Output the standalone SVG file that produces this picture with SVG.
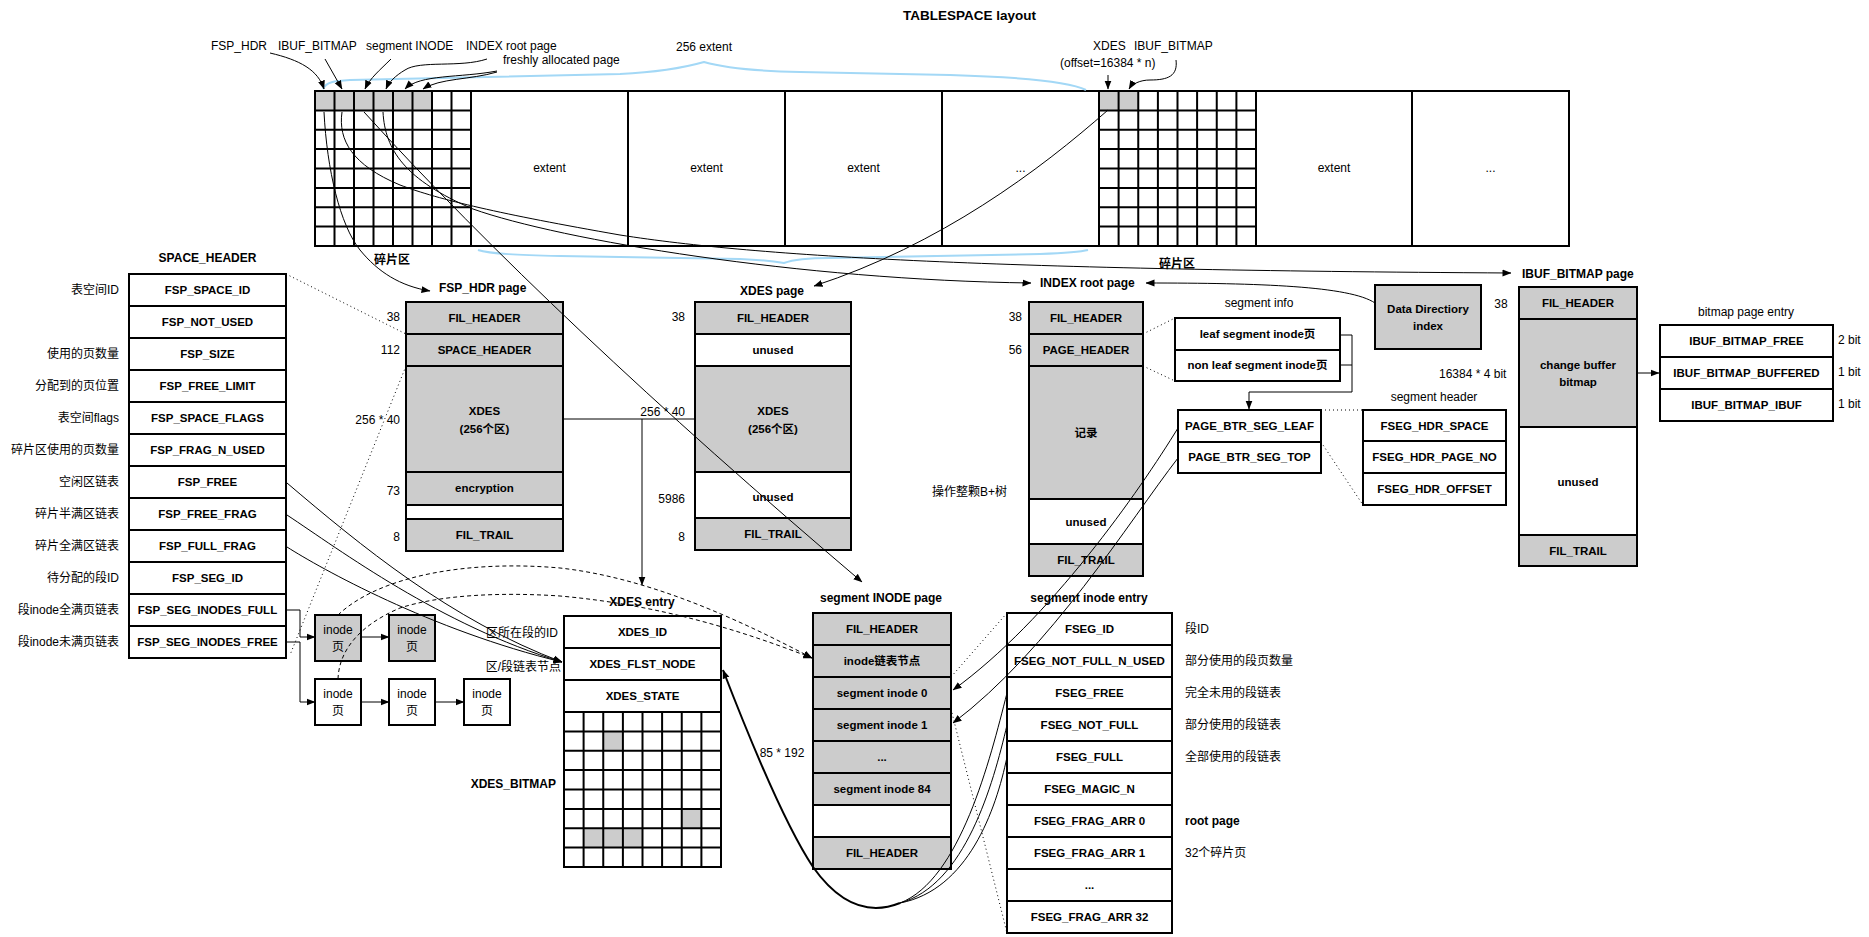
<svg xmlns="http://www.w3.org/2000/svg" width="1869" height="937" viewBox="0 0 1869 937">
<style>
text{font-family:"Liberation Sans","Noto Sans CJK SC",sans-serif;font-size:12px;fill:#000}
.bd{font-weight:bold}
.c{font-weight:bold;font-size:11.5px;text-anchor:middle}
.m{text-anchor:middle}
.e{text-anchor:end}
.r{stroke:#000;stroke-width:2}
.g{fill:#ccc}
.w{fill:#fff}
.ln{fill:none;stroke:#000;stroke-width:1}
.tk{fill:none;stroke:#000;stroke-width:2}
.dot{fill:none;stroke:#000;stroke-width:1;stroke-dasharray:1 3}
.dash{fill:none;stroke:#000;stroke-width:1;stroke-dasharray:4 3}
.blue{fill:none;stroke:#a3d8f6;stroke-width:2}
.gl{fill:none;stroke:#000;stroke-width:2}
</style>
<defs>
<marker id="a" markerWidth="9" markerHeight="8" refX="8.5" refY="4" orient="auto" markerUnits="userSpaceOnUse"><path d="M0,0.5 L9,4 L0,7.5 z" fill="#000"/></marker>
</defs>
<rect width="1869" height="937" fill="#fff"/>
<text class="bd m" x="969.5" y="20" style="font-size:13.5px">TABLESPACE layout</text>

<g id="tablespace">
<rect x="315" y="91" width="117" height="19.4" class="g"/>
<rect x="1099" y="91" width="39.25" height="19.4" class="g"/>
<rect x="315" y="91" width="1254" height="155" fill="none" class="r"/>
<path class="gl" d="M334.5,91V246M354,91V246M373.5,91V246M393,91V246M412.5,91V246M432,91V246M451.5,91V246M471,91V246M315,110.4H471M315,129.75H471M315,149.1H471M315,168.5H471M315,187.9H471M315,207.25H471M315,226.6H471M628,91V246M785,91V246M942,91V246M1099,91V246M1118.6,91V246M1138.25,91V246M1157.9,91V246M1177.5,91V246M1197.1,91V246M1216.75,91V246M1236.4,91V246M1256,91V246M1099,110.4H1256M1099,129.75H1256M1099,149.1H1256M1099,168.5H1256M1099,187.9H1256M1099,207.25H1256M1099,226.6H1256M1412,91V246"/>
<text class="m" x="549.5" y="172">extent</text>
<text class="m" x="706.5" y="172">extent</text>
<text class="m" x="863.5" y="172">extent</text>
<text class="m" x="1020.5" y="172">...</text>
<text class="m" x="1334" y="172">extent</text>
<text class="m" x="1490.5" y="172">...</text>
<path class="blue" d="M323,89 C326,82 334,81 350,80 L620,74 C660,72 690,66 704,62 C718,66 750,71 800,72 L950,75 C1020,77 1070,82 1086,90"/>
<path class="blue" d="M478,250 C490,254 520,255 560,256 L740,259 C765,260 778,262 784,263 C792,260 805,258 830,258 L1040,254 C1065,253 1080,252 1088,250"/>
<text class="m" x="704" y="51">256 extent</text>
<text x="211" y="50">FSP_HDR</text>
<text x="278" y="50">IBUF_BITMAP</text>
<text x="366" y="50">segment INODE</text>
<text x="466" y="50">INDEX root page</text>
<text x="503" y="64">freshly allocated page</text>
<text x="1093" y="50">XDES</text>
<text x="1134" y="50">IBUF_BITMAP</text>
<text x="1060" y="67">(offset=16384 * n)</text>
<text class="bd m" x="392" y="264">碎片区</text>
<text class="bd m" x="1177" y="268">碎片区</text>
</g>

<g id="space_header">
<text class="bd m" x="207.5" y="262">SPACE_HEADER</text>
<g fill="#fff" class="r">
<rect x="129" y="274" width="157" height="32"/><rect x="129" y="306" width="157" height="32"/><rect x="129" y="338" width="157" height="32"/><rect x="129" y="370" width="157" height="32"/><rect x="129" y="402" width="157" height="32"/><rect x="129" y="434" width="157" height="32"/><rect x="129" y="466" width="157" height="32"/><rect x="129" y="498" width="157" height="32"/><rect x="129" y="530" width="157" height="32"/><rect x="129" y="562" width="157" height="32"/><rect x="129" y="594" width="157" height="32"/><rect x="129" y="626" width="157" height="32"/>
</g>
<text class="c" x="207.5" y="294">FSP_SPACE_ID</text>
<text class="c" x="207.5" y="326">FSP_NOT_USED</text>
<text class="c" x="207.5" y="358">FSP_SIZE</text>
<text class="c" x="207.5" y="390">FSP_FREE_LIMIT</text>
<text class="c" x="207.5" y="422">FSP_SPACE_FLAGS</text>
<text class="c" x="207.5" y="454">FSP_FRAG_N_USED</text>
<text class="c" x="207.5" y="486">FSP_FREE</text>
<text class="c" x="207.5" y="518">FSP_FREE_FRAG</text>
<text class="c" x="207.5" y="550">FSP_FULL_FRAG</text>
<text class="c" x="207.5" y="582">FSP_SEG_ID</text>
<text class="c" x="207.5" y="614">FSP_SEG_INODES_FULL</text>
<text class="c" x="207.5" y="646">FSP_SEG_INODES_FREE</text>
<text class="e" x="119" y="294">表空间ID</text>
<text class="e" x="119" y="358">使用的页数量</text>
<text class="e" x="119" y="390">分配到的页位置</text>
<text class="e" x="119" y="422">表空间flags</text>
<text class="e" x="119" y="454">碎片区使用的页数量</text>
<text class="e" x="119" y="486">空闲区链表</text>
<text class="e" x="119" y="518">碎片半满区链表</text>
<text class="e" x="119" y="550">碎片全满区链表</text>
<text class="e" x="119" y="582">待分配的段ID</text>
<text class="e" x="119" y="614">段inode全满页链表</text>
<text class="e" x="119" y="646">段inode未满页链表</text>
</g>

<g id="fsp_hdr_page">
<text class="bd" x="439" y="292">FSP_HDR page</text>
<g class="r">
<rect x="406" y="302" width="157" height="32" class="g"/>
<rect x="406" y="334" width="157" height="32" class="g"/>
<rect x="406" y="366" width="157" height="106" class="g"/>
<rect x="406" y="472" width="157" height="33" class="g"/>
<rect x="406" y="505" width="157" height="14" class="w"/>
<rect x="406" y="519" width="157" height="32" class="g"/>
</g>
<text class="c" x="484.5" y="322">FIL_HEADER</text>
<text class="c" x="484.5" y="354">SPACE_HEADER</text>
<text class="c" x="484.5" y="415">XDES</text>
<text class="c" x="484.5" y="433">(256个区)</text>
<text class="c" x="484.5" y="492">encryption</text>
<text class="c" x="484.5" y="539">FIL_TRAIL</text>
<text class="e" x="400" y="321">38</text>
<text class="e" x="400" y="354">112</text>
<text class="e" x="400" y="424">256 * 40</text>
<text class="e" x="400" y="495">73</text>
<text class="e" x="400" y="541">8</text>
</g>

<g id="xdes_page">
<text class="bd m" x="772" y="295">XDES page</text>
<g class="r">
<rect x="695" y="302" width="156" height="32" class="g"/>
<rect x="695" y="334" width="156" height="32" class="w"/>
<rect x="695" y="366" width="156" height="106" class="g"/>
<rect x="695" y="472" width="156" height="46" class="w"/>
<rect x="695" y="518" width="156" height="32" class="g"/>
</g>
<text class="c" x="773" y="322">FIL_HEADER</text>
<text class="c" x="773" y="354">unused</text>
<text class="c" x="773" y="415">XDES</text>
<text class="c" x="773" y="433">(256个区)</text>
<text class="c" x="773" y="501">unused</text>
<text class="c" x="773" y="538">FIL_TRAIL</text>
<text class="e" x="685" y="321">38</text>
<text class="e" x="685" y="416">256 * 40</text>
<text class="e" x="685" y="503">5986</text>
<text class="e" x="685" y="541">8</text>
</g>

<g id="index_root_page">
<text class="bd" x="1040" y="287">INDEX root page</text>
<g class="r">
<rect x="1029" y="302" width="114" height="32" class="g"/>
<rect x="1029" y="334" width="114" height="32" class="g"/>
<rect x="1029" y="366" width="114" height="133" class="g"/>
<rect x="1029" y="499" width="114" height="45" class="w"/>
<rect x="1029" y="544" width="114" height="32" class="g"/>
</g>
<text class="c" x="1086" y="322">FIL_HEADER</text>
<text class="c" x="1086" y="354">PAGE_HEADER</text>
<text class="c" x="1086" y="437">记录</text>
<text class="c" x="1086" y="526">unused</text>
<text class="c" x="1086" y="564">FIL_TRAIL</text>
<text class="e" x="1022" y="321">38</text>
<text class="e" x="1022" y="354">56</text>
<text x="932" y="496">操作整颗B+树</text>
</g>

<g id="segment_info">
<text class="m" x="1259" y="307">segment info</text>
<g class="r w">
<rect x="1175" y="318" width="165" height="32"/>
<rect x="1175" y="350" width="165" height="31"/>
</g>
<text class="c" x="1257.5" y="338">leaf segment inode页</text>
<text class="c" x="1257.5" y="369">non leaf segment inode页</text>
</g>

<g id="page_btr">
<g class="r w">
<rect x="1178" y="410" width="143" height="32"/>
<rect x="1178" y="442" width="143" height="31"/>
</g>
<text class="c" x="1249.5" y="430">PAGE_BTR_SEG_LEAF</text>
<text class="c" x="1249.5" y="461">PAGE_BTR_SEG_TOP</text>
</g>

<g id="segment_header">
<text class="m" x="1434" y="401">segment header</text>
<g class="r w">
<rect x="1363" y="410" width="143" height="31"/>
<rect x="1363" y="441" width="143" height="32"/>
<rect x="1363" y="473" width="143" height="32"/>
</g>
<text class="c" x="1434.5" y="430">FSEG_HDR_SPACE</text>
<text class="c" x="1434.5" y="461">FSEG_HDR_PAGE_NO</text>
<text class="c" x="1434.5" y="493">FSEG_HDR_OFFSET</text>
</g>

<g id="data_directory">
<rect x="1375" y="285" width="106" height="64" class="r g"/>
<text class="c" x="1428" y="313">Data Directiory</text>
<text class="c" x="1428" y="330">index</text>
</g>

<g id="ibuf_bitmap_page">
<text class="bd" x="1522" y="278">IBUF_BITMAP page</text>
<g class="r">
<rect x="1519" y="287" width="118" height="32" class="g"/>
<rect x="1519" y="319" width="118" height="108" class="g"/>
<rect x="1519" y="427" width="118" height="108" class="w"/>
<rect x="1519" y="535" width="118" height="31" class="g"/>
</g>
<text class="c" x="1578" y="307">FIL_HEADER</text>
<text class="c" x="1578" y="369">change buffer</text>
<text class="c" x="1578" y="386">bitmap</text>
<text class="c" x="1578" y="486">unused</text>
<text class="c" x="1578" y="555">FIL_TRAIL</text>
<text class="m" x="1501" y="308">38</text>
<text x="1439" y="378">16384 * 4 bit</text>
</g>

<g id="bitmap_page_entry">
<text class="m" x="1746" y="316">bitmap page entry</text>
<g class="r w">
<rect x="1660" y="325" width="173" height="32"/>
<rect x="1660" y="357" width="173" height="32"/>
<rect x="1660" y="389" width="173" height="32"/>
</g>
<text class="c" x="1746.5" y="345">IBUF_BITMAP_FREE</text>
<text class="c" x="1746.5" y="377">IBUF_BITMAP_BUFFERED</text>
<text class="c" x="1746.5" y="409">IBUF_BITMAP_IBUF</text>
<text x="1838" y="344">2 bit</text>
<text x="1838" y="376">1 bit</text>
<text x="1838" y="408">1 bit</text>
</g>

<g id="inode_pages">
<g class="r">
<rect x="315" y="615" width="46" height="46" class="g"/>
<rect x="389" y="615" width="46" height="46" class="g"/>
<rect x="315" y="679" width="46" height="46" class="w"/>
<rect x="389" y="679" width="46" height="46" class="w"/>
<rect x="464" y="679" width="46" height="46" class="w"/>
</g>
<text class="m" x="338" y="634">inode</text><text class="m" x="338" y="651">页</text>
<text class="m" x="412" y="634">inode</text><text class="m" x="412" y="651">页</text>
<text class="m" x="338" y="698">inode</text><text class="m" x="338" y="715">页</text>
<text class="m" x="412" y="698">inode</text><text class="m" x="412" y="715">页</text>
<text class="m" x="487" y="698">inode</text><text class="m" x="487" y="715">页</text>
</g>

<g id="xdes_entry">
<text class="bd m" x="642" y="606">XDES entry</text>
<g class="r w">
<rect x="564" y="616" width="157" height="32"/>
<rect x="564" y="648" width="157" height="32"/>
<rect x="564" y="680" width="157" height="32"/>
</g>
<rect x="603.25" y="731.4" width="19.6" height="19.4" class="g"/>
<rect x="681.75" y="808.9" width="19.6" height="19.4" class="g"/>
<rect x="583.6" y="828.25" width="58.9" height="19.4" class="g"/>
<rect x="564" y="712" width="157" height="155" fill="none" class="r"/>
<path class="gl" d="M583.6,712V867M603.25,712V867M622.9,712V867M642.5,712V867M662.1,712V867M681.75,712V867M701.4,712V867M564,731.4H721M564,750.75H721M564,770.1H721M564,789.5H721M564,808.9H721M564,828.25H721M564,847.6H721"/>
<text class="c" x="642.5" y="636">XDES_ID</text>
<text class="c" x="642.5" y="668">XDES_FLST_NODE</text>
<text class="c" x="642.5" y="700">XDES_STATE</text>
<text class="e" x="558" y="637">区所在段的ID</text>
<text class="e" x="561" y="671">区/段链表节点</text>
<text class="bd e" x="556" y="788">XDES_BITMAP</text>
</g>

<g id="segment_inode_page">
<text class="bd m" x="881" y="602">segment INODE page</text>
<g class="r">
<rect x="813" y="613" width="138" height="32" class="g"/>
<rect x="813" y="645" width="138" height="32" class="g"/>
<rect x="813" y="677" width="138" height="32" class="g"/>
<rect x="813" y="709" width="138" height="32" class="g"/>
<rect x="813" y="741" width="138" height="32" class="g"/>
<rect x="813" y="773" width="138" height="32" class="g"/>
<rect x="813" y="805" width="138" height="32" class="w"/>
<rect x="813" y="837" width="138" height="32" class="g"/>
</g>
<text class="c" x="882" y="633">FIL_HEADER</text>
<text class="c" x="882" y="665">inode链表节点</text>
<text class="c" x="882" y="697">segment inode 0</text>
<text class="c" x="882" y="729">segment inode 1</text>
<text class="c" x="882" y="761">...</text>
<text class="c" x="882" y="793">segment inode 84</text>
<text class="c" x="882" y="857">FIL_HEADER</text>
<text class="m" x="782" y="757">85 * 192</text>
</g>

<g id="segment_inode_entry">
<text class="bd m" x="1089" y="602">segment inode entry</text>
<g class="r w">
<rect x="1007" y="613" width="165" height="32"/>
<rect x="1007" y="645" width="165" height="32"/>
<rect x="1007" y="677" width="165" height="32"/>
<rect x="1007" y="709" width="165" height="32"/>
<rect x="1007" y="741" width="165" height="32"/>
<rect x="1007" y="773" width="165" height="32"/>
<rect x="1007" y="805" width="165" height="32"/>
<rect x="1007" y="837" width="165" height="32"/>
<rect x="1007" y="869" width="165" height="32"/>
<rect x="1007" y="901" width="165" height="32"/>
</g>
<text class="c" x="1089.5" y="633">FSEG_ID</text>
<text class="c" x="1089.5" y="665">FSEG_NOT_FULL_N_USED</text>
<text class="c" x="1089.5" y="697">FSEG_FREE</text>
<text class="c" x="1089.5" y="729">FSEG_NOT_FULL</text>
<text class="c" x="1089.5" y="761">FSEG_FULL</text>
<text class="c" x="1089.5" y="793">FSEG_MAGIC_N</text>
<text class="c" x="1089.5" y="825">FSEG_FRAG_ARR 0</text>
<text class="c" x="1089.5" y="857">FSEG_FRAG_ARR 1</text>
<text class="c" x="1089.5" y="889">...</text>
<text class="c" x="1089.5" y="921">FSEG_FRAG_ARR 32</text>
<text x="1185" y="633">段ID</text>
<text x="1185" y="665">部分使用的段页数量</text>
<text x="1185" y="697">完全未用的段链表</text>
<text x="1185" y="729">部分使用的段链表</text>
<text x="1185" y="761">全部使用的段链表</text>
<text class="bd" x="1185" y="825">root page</text>
<text x="1185" y="857">32个碎片页</text>
</g>

<g id="connectors">
<path class="ln" marker-end="url(#a)" d="M270,53 C300,60 318,70 324,89"/>
<path class="ln" marker-end="url(#a)" d="M325,59 L342,89"/>
<path class="ln" marker-end="url(#a)" d="M391,59 C380,70 370,78 365,89"/>
<path class="ln" marker-end="url(#a)" d="M487,59 C460,68 420,60 405,70 C395,76 389,82 386,89"/>
<path class="ln" marker-end="url(#a)" d="M497,71 C460,78 420,74 405,89"/>
<path class="ln" marker-end="url(#a)" d="M497,72 C470,80 440,78 423,89"/>
<path class="ln" marker-end="url(#a)" d="M1108,75 V89"/>
<path class="ln" marker-end="url(#a)" d="M1176,60 C1178,76 1168,80 1150,80 C1140,80 1132,84 1129,89"/>
<path class="ln" marker-end="url(#a)" d="M324,112 C327,170 340,225 360,250 C378,272 400,286 430,291"/>
<path class="ln" marker-end="url(#a)" d="M342,112 C338,140 352,165 400,185 C440,200 500,214 620,235 C760,257 1000,270 1511,273"/>
<path class="ln" marker-end="url(#a)" d="M383,112 C385,150 405,180 473,209 C560,240 800,280 1031,283"/>
<path class="ln" marker-end="url(#a)" d="M364,112 Q551,318 862,582"/>
<path class="ln" marker-end="url(#a)" d="M1108,110 C1040,170 940,245 814,286"/>
<path class="ln" marker-end="url(#a)" d="M1375,303 C1350,286 1260,283 1146,283"/>
<path class="dot" d="M286,274 L406,334"/>
<path class="dot" d="M406,366 L290,655"/>
<path class="ln" d="M563,419 H695"/>
<path class="ln" marker-end="url(#a)" d="M642,419 V585"/>
<path class="ln" marker-end="url(#a)" d="M287,483 C360,545 450,620 562,662"/>
<path class="ln" marker-end="url(#a)" d="M287,515 C340,550 440,625 562,662"/>
<path class="ln" marker-end="url(#a)" d="M287,547 C320,568 430,630 562,662"/>
<path class="ln" marker-end="url(#a)" d="M286,610 H300 V637 H315"/>
<path class="ln" marker-end="url(#a)" d="M286,642 H300 V702 H315"/>
<path class="ln" marker-end="url(#a)" d="M361,637 H389"/>
<path class="ln" marker-end="url(#a)" d="M361,702 H389"/>
<path class="ln" marker-end="url(#a)" d="M435,702 H464"/>
<path class="dash" marker-end="url(#a)" d="M338,615 C380,575 470,560 560,568 C650,578 740,620 812,658"/>
<path class="dash" marker-end="url(#a)" d="M338,679 C339,650 360,625 400,608 C440,595 500,592 560,596 C660,605 740,630 812,658"/>
<path class="dot" d="M1143,334 L1175,318"/>
<path class="dot" d="M1143,366 L1175,381"/>
<path class="ln" d="M1340,335 H1352 M1340,365 H1352"/>
<path class="ln" marker-end="url(#a)" d="M1352,335 V392 H1249 V409"/>
<path class="dot" d="M1321,410 H1363"/>
<path class="dot" d="M1321,442 L1363,505"/>
<path class="ln" marker-end="url(#a)" d="M1178,428 C1140,490 1050,620 953,690"/>
<path class="ln" marker-end="url(#a)" d="M1178,458 C1130,520 1050,650 953,723"/>
<path class="dot" d="M951,677 L1007,613"/>
<path class="dot" d="M951,709 L1007,933"/>
<path class="ln" d="M1007,693 C990,760 960,880 900,903"/>
<path class="ln" d="M1007,725 C993,785 965,885 900,903"/>
<path class="ln" d="M1007,757 C996,810 968,890 900,903"/>
<path class="tk" marker-end="url(#a)" d="M900,903 C870,915 840,905 813,867 C785,825 750,740 723,670"/>
<path class="ln" marker-end="url(#a)" d="M1637,373 H1659"/>
</g>
</svg>
